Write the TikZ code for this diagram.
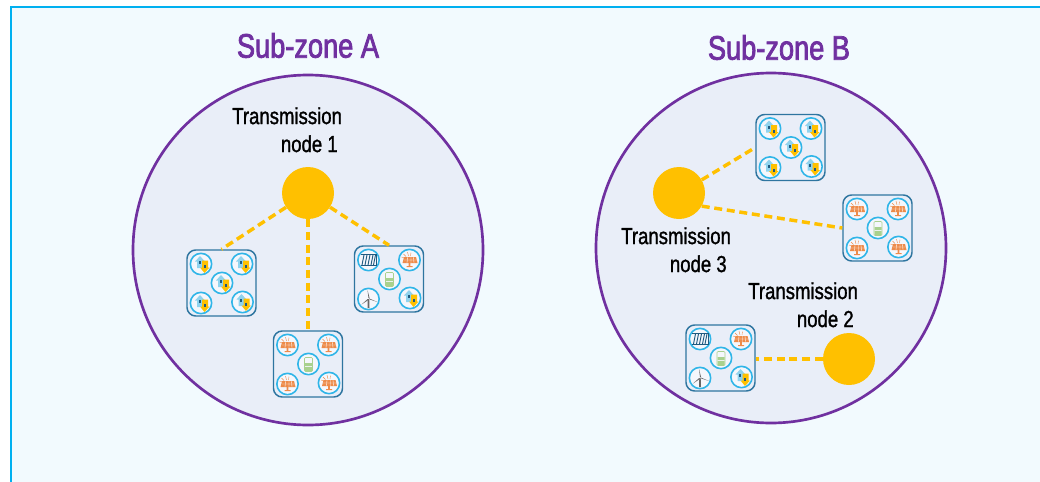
\documentclass[tikz,border=0pt]{standalone}
\usepackage{fontspec}
\setmainfont[FakeStretch=0.8,FakeBold=1.2]{Liberation Sans}
\newfontfamily\titlefont[FakeStretch=0.8,FakeBold=2.2]{Liberation Sans}
\definecolor{panelfill}{HTML}{F2FAFE}
\definecolor{panelline}{HTML}{00B0F0}
\definecolor{zonefill}{HTML}{E9EEF8}
\definecolor{zoneline}{HTML}{7030A0}
\definecolor{nodeyellow}{HTML}{FFC000}
\definecolor{boxline}{HTML}{2E75A0}
\definecolor{iconring}{HTML}{2FB5E8}
\definecolor{solarorange}{HTML}{ED8B4A}
\definecolor{battgreen}{HTML}{A9D18E}
\definecolor{upblue}{HTML}{8FD3EE}
\definecolor{hydroblue}{HTML}{1F5A80}
\tikzset{
    zone/.style={circle, draw=zoneline, line width=2pt, fill=zonefill, minimum size=262.5pt, inner sep=0pt},
    zonetitle/.style={text=zoneline, font=\titlefont\fontsize{25.5}{28}\selectfont},
    transnode/.style={circle, fill=nodeyellow, minimum size=39pt, inner sep=0pt},
    translabel/.style={align=left, font=\fontsize{17.4}{21}\selectfont, inner sep=0pt},
    link/.style={draw=nodeyellow, line width=2.6pt, dash pattern=on 6pt off 3.5pt},
    clusterbox/.style={draw=boxline, line width=1.1pt, rounded corners=6.5pt, minimum width=51.75pt, minimum height=49.5pt, inner sep=0pt},
    iconcircle/.style={circle, draw=iconring, line width=1.2pt, fill=white!55!zonefill, minimum size=16pt, inner sep=0pt},
    % icons, drawn in picture pixels round the ring centre
    demand/.pic={
        \fill[upblue] (-1,-8) -- (-6,-2.5) -- (-4,-2.5) -- (-4,4) -- (1.5,4) -- (1.5,-2.5) -- (4,-2.5) -- cycle;
        \fill[nodeyellow] (3.5,9) -- (8.5,3.5) -- (7,3.5) -- (7,-3.5) -- (1,-3.5) -- (1,3.5) -- (-1,3.5) -- cycle;
        \fill[hydroblue] (-2.5,-3) rectangle (-0.5,0);
        \fill[hydroblue] (2.5,1) rectangle (4.5,4);
    },
    solar/.pic={
        \draw[solarorange, line width=0.3pt] (-6,-6) -- (-3.5,-3.5) (-2,-8) -- (-1,-4) (1.5,-7.5) -- (1,-4) (-8,-3) -- (-5,-2);
        \fill[solarorange] (-5.5,-3) -- (6.5,-3) -- (8,3) -- (-7,3) -- cycle;
        \draw[white, line width=0.25pt] (-6,0) -- (7.5,0) (-2,-3) -- (-2.5,3) (1.5,-3) -- (1.5,3) (4,-3) -- (4.5,3);
        \fill[solarorange] (-0.8,3) rectangle (0.8,6) (-3,6) rectangle (3,7);
    },
    battery/.pic={
        \draw[battgreen, line width=0.4pt, rounded corners=0.8pt] (-4,-6.5) rectangle (4,7.5);
        \fill[battgreen] (-3.5,-1) rectangle (3.5,2) (-3.5,3) rectangle (3.5,7);
        \fill[battgreen] (-1.5,-7.5) rectangle (1.5,-6.5);
    },
    windmill/.pic={
        \fill[black!60] (-0.7,0) -- (0.7,0) -- (1,9) -- (-1,9) -- cycle;
        \fill[black!60] (0,-0.8) -- (1,-1) -- (-1,-9) -- cycle;
        \fill[black!60] (0.6,-0.6) -- (1,0.4) -- (9,3) -- cycle;
        \fill[black!60] (-0.8,0) -- (0,0.9) -- (-7,5.5) -- cycle;
    },
    hydro/.pic={
        \draw[hydroblue, line width=0.7pt] (-8,-6) -- (8,-6) -- (8,5) -- (-8,5);
        \foreach \s in {-5.5,-2.5,0.5,3.5,6} {
            \draw[hydroblue, line width=0.7pt] (\s-1,5) -- (\s+1,-5);
        }
    }
}
% a cluster box with its five rings: name, position, five icons
\newcommand{\cluster}[7]{
    \node[clusterbox] (#1) at (#2) {};
    \node[iconcircle] (#1-a) at ([shift={(-20.5,-19)}]#1.center) {};
    \node[iconcircle] (#1-b) at ([shift={(20.5,-19)}]#1.center) {};
    \node[iconcircle] (#1-c) at ([shift={(0.5,0)}]#1.center) {};
    \node[iconcircle] (#1-d) at ([shift={(-20.5,20)}]#1.center) {};
    \node[iconcircle] (#1-e) at ([shift={(21,19)}]#1.center) {};
    \pic at (#1-a) {#3};
    \pic at (#1-b) {#4};
    \pic at (#1-c) {#5};
    \pic at (#1-d) {#6};
    \pic at (#1-e) {#7};
}
\begin{document}
\begin{tikzpicture}[x=0.75pt, y=-0.75pt]
    \useasboundingbox (0,0) rectangle (1040,482);

    % Background panel
    \fill[panelfill] (11,7) rectangle (1040,482);
    \draw[panelline, line width=2.2pt] (11,482) -- (11,7) -- (1040,7);

    % Sub-zones
    \node[zone] (zoneA) at (308,250) {};
    \node[zone] (zoneB) at (771,248) {};
    \node[zonetitle] (titleA) at (308,45.5) {Sub-zone A};
    \node[zonetitle] (titleB) at (779,47.5) {Sub-zone B};

    % Transmission nodes
    \node[transnode] (tn1) at (308,193) {};
    \node[transnode] (tn3) at (679,193) {};
    \node[transnode] (tn2) at (849,359) {};
    \node[translabel, anchor=north west] (lab1) at (232,107) {Transmission\\\hspace{36.5pt}node 1};
    \node[translabel, anchor=north west] (lab3) at (621,227) {Transmission\\\hspace{36.5pt}node 3};
    \node[translabel, anchor=north west] (lab2) at (748,282) {Transmission\\\hspace{36.5pt}node 2};

    % Clusters
    \cluster{boxA}{221.5,283}{demand}{demand}{demand}{demand}{demand}
    \cluster{boxB}{308,364}{solar}{solar}{battery}{solar}{solar}
    \cluster{boxC}{389,279}{hydro}{solar}{battery}{windmill}{demand}
    \cluster{boxD}{790.5,147.5}{demand}{demand}{demand}{demand}{demand}
    \cluster{boxE}{877.5,228}{solar}{solar}{battery}{solar}{solar}
    \cluster{boxF}{720.5,358}{hydro}{solar}{battery}{windmill}{demand}

    % Links
    \draw[link] (tn1) -- (boxA.north);
    \draw[link] (tn1) -- (boxB.north);
    \draw[link] (tn1) -- (boxC.north);
    \draw[link] (tn3.30) -- (boxD.west);
    \draw[link] (tn3.-30) -- (boxE.west);
    \draw[link] (tn2) -- (boxF.east |- tn2);
\end{tikzpicture}
\end{document}
